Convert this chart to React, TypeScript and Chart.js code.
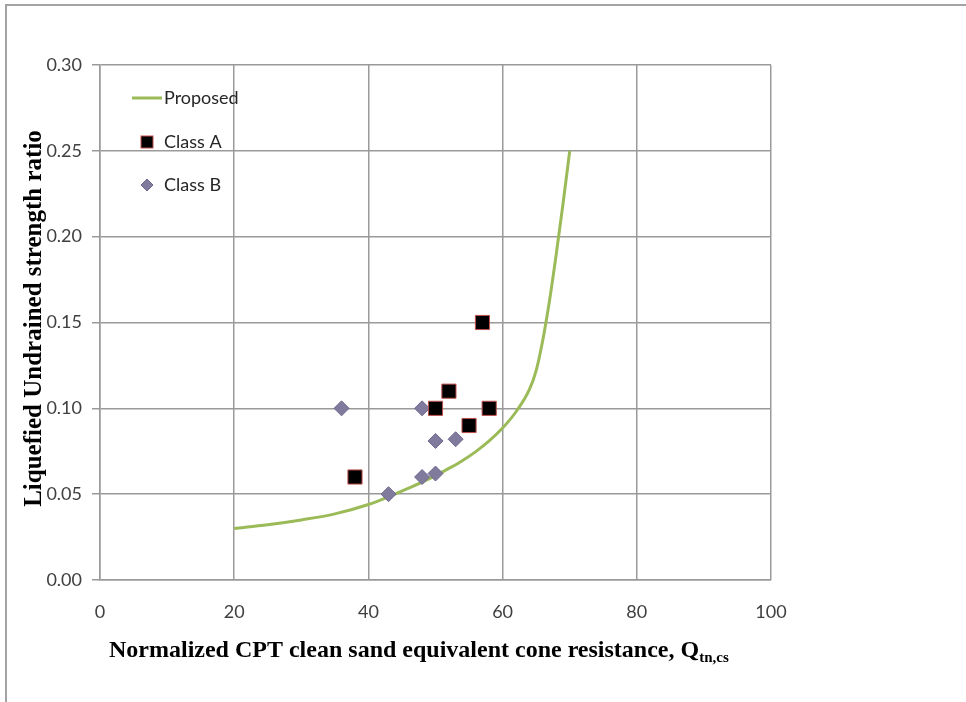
import React, { useEffect, useRef } from "react";
import { Chart, registerables } from "chart.js";

Chart.register(...registerables);

// ---- data ----
const xTickValues = [0, 20, 40, 60, 80, 100];
const yTickValues = [0, 0.05, 0.1, 0.15, 0.2, 0.25, 0.3];

const proposedX = [20, 25, 30, 35, 40, 43, 46, 48, 50, 52, 54, 56, 58, 60, 62, 64, 65, 66, 67, 68, 69, 70];
const proposedY = [0.03, 0.0322, 0.035, 0.0385, 0.044, 0.0485, 0.0535, 0.057, 0.0608, 0.065, 0.0695, 0.0748, 0.081, 0.0885, 0.098, 0.111, 0.122, 0.14, 0.163, 0.19, 0.219, 0.25];

const classAX = [38, 50, 52, 55, 57, 58];
const classAY = [0.06, 0.1, 0.11, 0.09, 0.15, 0.1];

const classBX = [36, 48, 50, 53, 48, 50, 43];
const classBY = [0.1, 0.1, 0.081, 0.082, 0.06, 0.062, 0.05];

const legendLabels = ["Proposed", "Class A", "Class B"];
const xTitle = "Normalized CPT clean sand equivalent cone resistance, Q";
const xTitleSub = "tn,cs";
const yTitle = "Liquefied Undrained strength ratio";

const GREEN = "#9BBB59";
const SQUARE_FILL = "#000000";
const SQUARE_BORDER = "#C0504D";
const DIAMOND_FILL = "#807A9C";
const DIAMOND_BORDER = "#6E6890";
const GRID = "#9a9a9a";
const TICK_FONT = "Lato";

const toPoints = (xs: number[], ys: number[]) => xs.map((x, i) => ({ x, y: ys[i] }));

const overlayPlugin = {
  id: "overlay",
  afterDraw(chart: any) {
    const ctx: CanvasRenderingContext2D = chart.ctx;
    const a = chart.chartArea;
    ctx.save();

    // legend (inside plot area, top-left)
    const lineX0 = a.left + 32;
    const lineX1 = a.left + 62;
    const textX = a.left + 64;
    const rows = [a.top + 33, a.top + 77, a.top + 120];
    const markX = a.left + 47;

    ctx.strokeStyle = GREEN;
    ctx.lineWidth = 3;
    ctx.beginPath();
    ctx.moveTo(lineX0, rows[0]);
    ctx.lineTo(lineX1, rows[0]);
    ctx.stroke();

    ctx.fillStyle = SQUARE_FILL;
    ctx.strokeStyle = SQUARE_BORDER;
    ctx.lineWidth = 1;
    ctx.fillRect(markX - 6, rows[1] - 6, 12, 12);
    ctx.strokeRect(markX - 6, rows[1] - 6, 12, 12);

    ctx.fillStyle = DIAMOND_FILL;
    ctx.strokeStyle = DIAMOND_BORDER;
    ctx.beginPath();
    ctx.moveTo(markX - 6, rows[2]);
    ctx.lineTo(markX, rows[2] - 6);
    ctx.lineTo(markX + 6, rows[2]);
    ctx.lineTo(markX, rows[2] + 6);
    ctx.closePath();
    ctx.fill();
    ctx.stroke();

    ctx.fillStyle = "#262626";
    ctx.font = `18px ${TICK_FONT}`;
    ctx.textBaseline = "middle";
    ctx.textAlign = "left";
    legendLabels.forEach((t, i) => ctx.fillText(t, textX, rows[i]));

    // y axis title
    ctx.fillStyle = "#000";
    ctx.font = "bold 25px 'Liberation Serif'";
    ctx.textAlign = "center";
    ctx.textBaseline = "middle";
    ctx.save();
    ctx.translate(35, (a.top + a.bottom) / 2 - 4);
    ctx.rotate(-Math.PI / 2);
    ctx.fillText(yTitle, 0, 0);
    ctx.restore();

    // x axis title with subscript
    ctx.textAlign = "left";
    ctx.textBaseline = "alphabetic";
    ctx.font = "bold 24px 'Liberation Serif'";
    const mainW = ctx.measureText(xTitle).width;
    const startX = 109;
    const baseY = 657;
    ctx.fillText(xTitle, startX, baseY);
    ctx.font = "bold 15px 'Liberation Serif'";
    ctx.fillText(xTitleSub, startX + mainW, baseY + 5);

    ctx.restore();
  },
};

export default function App() {
  const ref = useRef<HTMLCanvasElement>(null);

  useEffect(() => {
    if (!ref.current) return;
    const chart = new Chart(ref.current, {
      type: "scatter",
      data: {
        datasets: [
          {
            label: legendLabels[1],
            data: toPoints(classAX, classAY),
            pointStyle: "rect",
            pointRadius: 10,
            backgroundColor: SQUARE_FILL,
            borderColor: SQUARE_BORDER,
            borderWidth: 1,
            order: 0,
          },
          {
            label: legendLabels[2],
            data: toPoints(classBX, classBY),
            pointStyle: "rectRot",
            pointRadius: 7.5,
            backgroundColor: DIAMOND_FILL,
            borderColor: DIAMOND_BORDER,
            borderWidth: 1,
            order: 1,
          },
          {
            type: "line",
            label: legendLabels[0],
            data: toPoints(proposedX, proposedY),
            borderColor: GREEN,
            borderWidth: 3,
            pointRadius: 0,
            fill: false,
            cubicInterpolationMode: "monotone",
            order: 2,
          } as any,
        ],
      },
      options: {
        animation: false,
        responsive: false,
        devicePixelRatio: 1,
        layout: { padding: { left: 0, top: 65, right: 195, bottom: 0 } },
        plugins: { legend: { display: false }, tooltip: { enabled: false } },
        scales: {
          x: {
            type: "linear",
            min: 0,
            max: 100,
            afterBuildTicks: (s: any) => {
              s.ticks = xTickValues.map((v) => ({ value: v }));
            },
            afterFit: (s: any) => {
              s.height = 122;
            },
            ticks: {
              font: { family: TICK_FONT, size: 18 },
              color: "#404040",
              padding: 21,
              callback: (v: any) => String(v),
            },
            grid: { color: GRID, lineWidth: 1.5, drawTicks: false },
            border: { color: GRID, width: 1.5 },
          },
          y: {
            type: "linear",
            min: 0,
            max: 0.3,
            afterBuildTicks: (s: any) => {
              s.ticks = yTickValues.map((v) => ({ value: v }));
            },
            afterFit: (s: any) => {
              s.width = 100;
            },
            ticks: {
              font: { family: TICK_FONT, size: 18 },
              color: "#404040",
              padding: 10,
              callback: (v: any) => Number(v).toFixed(2),
            },
            grid: { color: GRID, lineWidth: 1.5, drawTicks: true, tickLength: 8 },
            border: { color: GRID, width: 1.5 },
          },
        },
      },
      plugins: [overlayPlugin],
    } as any);
    return () => chart.destroy();
  }, []);

  return (
    <div
      style={{
        position: "fixed",
        left: 0,
        top: 0,
        width: 966,
        height: 702,
        overflow: "hidden",
        background: "#fff",
      }}
    >
      <div
        style={{
          position: "absolute",
          left: 5,
          top: 4,
          width: 3000,
          height: 3000,
          borderLeft: "2px solid #a3a3a3",
          borderTop: "2px solid #a3a3a3",
        }}
      />
      <canvas
        ref={ref}
        width={966}
        height={702}
        style={{ position: "absolute", left: 0, top: 0, display: "block" }}
      />
    </div>
  );
}
